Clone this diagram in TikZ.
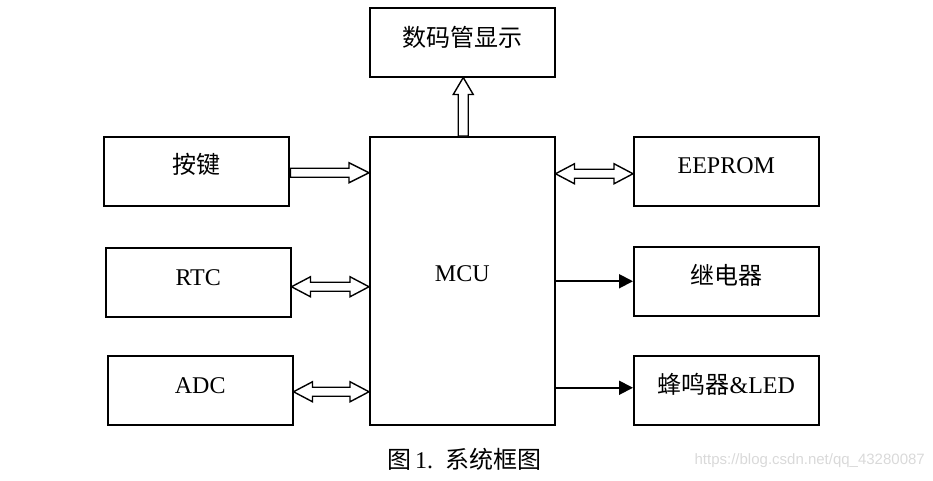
\documentclass[tikz,border=0pt]{standalone}
\usepackage{fontspec}
\setmainfont{Liberation Serif}
\newfontfamily\cjk{Noto Sans CJK SC}
\newfontfamily\wmfont{Liberation Sans}
\usetikzlibrary{calc,arrows.meta}
\newcommand\dblarrow[2]{%
  \draw[hollow] let \p1=(#1), \p2=(#2) in
  (\x1,\y1) -- (\x1+19pt,\y1+10pt) -- (\x1+19pt,\y1+4.5pt) -- (\x2-19pt,\y1+4.5pt)
  -- (\x2-19pt,\y1+10pt) -- (\x2,\y1) -- (\x2-19pt,\y1-10pt) -- (\x2-19pt,\y1-4.5pt)
  -- (\x1+19pt,\y1-4.5pt) -- (\x1+19pt,\y1-10pt) -- cycle;}
\newcommand\sglarrow[2]{%
  \draw[hollow] let \p1=(#1), \p2=(#2) in
  (\x1,\y1+4.5pt) -- (\x2-20pt,\y1+4.5pt) -- (\x2-20pt,\y1+10pt) -- (\x2,\y1)
  -- (\x2-20pt,\y1-10pt) -- (\x2-20pt,\y1-4.5pt) -- (\x1,\y1-4.5pt) -- cycle;}
\newcommand\hollowup[2]{%
  \draw[hollow] let \p1=(#1), \p2=(#2) in
  (\x1-5pt,\y1) -- (\x1-5pt,\y2-17pt) -- (\x1-10pt,\y2-17pt) -- (\x1,\y2)
  -- (\x1+10pt,\y2-17pt) -- (\x1+5pt,\y2-17pt) -- (\x1+5pt,\y1) -- cycle;}
\begin{document}
\begin{tikzpicture}[x=1pt,y=-1pt,
  box/.style={draw, line width=1.5pt, minimum width=185pt, minimum height=69pt,
    anchor=north west, inner sep=0pt},
  lbl/.style={font=\fontsize{24}{28}\selectfont, inner sep=0pt},
  hollow/.style={draw, fill=white, line width=1.4pt, line join=miter},
  solid/.style={line width=1.9pt, -{Triangle[length=14pt,width=14pt]}}]
\useasboundingbox (0,0) rectangle (933,480);
% boxes
\node[box] (disp) at (369,7) {};
\node[box, minimum height=288pt] (mcu) at (369,136) {};
\node[box] (key) at (103,136) {};
\node[box] (rtc) at (105,247) {};
\node[box] (adc) at (107,355) {};
\node[box] (eep) at (633,136) {};
\node[box] (relay) at (633,246) {};
\node[box] (buzz) at (633,355) {};
% labels
\node[lbl] (tdisp) at ($(disp.center)+(0,-5)$) {\cjk 数码管显示};
\node[lbl] (tmcu) at ($(mcu.center)+(0,-7)$) {MCU};
\node[lbl] (tkey) at ($(key.center)+(0,-7)$) {\cjk 按键};
\node[lbl] (trtc) at ($(rtc.center)+(0,-5)$) {RTC};
\node[lbl] (tadc) at ($(adc.center)+(0,-5)$) {ADC};
\node[lbl] (teep) at ($(eep.center)+(0,-6)$) {EEPROM};
\node[lbl] (trelay) at ($(relay.center)+(0,-6)$) {\cjk 继电器};
\node[lbl] (tbuzz) at ($(buzz.center)+(0,-6)$) {{\cjk 蜂鸣器}\&LED};
% connectors
\coordinate (k1) at ($(key.east)+(1,1.5)$);
\sglarrow{k1}{mcu.west|-k1}
\coordinate (r1) at ($(rtc.east)+(0,4.5)$);
\dblarrow{r1}{mcu.west|-r1}
\coordinate (a1) at ($(adc.east)+(0,1.5)$);
\dblarrow{a1}{mcu.west|-a1}
\coordinate (e1) at ($(eep.west)+(0,2.5)$);
\dblarrow{mcu.east|-e1}{e1}
\coordinate (u1) at ($(mcu.north)+(1,0)$);
\hollowup{u1}{disp.south-|u1}
\draw[solid] (mcu.east|-relay.west) -- (relay.west);
\draw[solid] ($(mcu.east|-buzz.west)+(0,-2.5)$) -- ($(buzz.west)+(0,-2.5)$);
% caption
\node[lbl] (cap) at (464,459) {\cjk 图\,{\rmfamily 1.}\enspace 系统框图};
\node[font=\wmfont\fontsize{15}{18}\selectfont, text=black!15, anchor=east, inner sep=0pt]
  (wm) at (925,461) {https://blog.csdn.net/qq\_43280087};
\end{tikzpicture}
\end{document}
